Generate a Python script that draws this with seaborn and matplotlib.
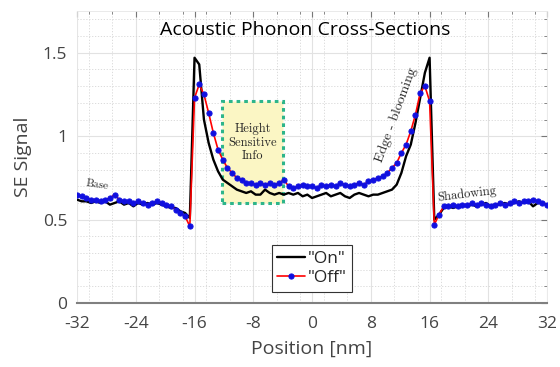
import matplotlib
matplotlib.use("Agg")
import matplotlib.pyplot as plt
import numpy as np
import pandas as pd
import seaborn as sns
from matplotlib.patches import Rectangle
from matplotlib.ticker import MultipleLocator

# Sample positions (nm), one every 0.64 nm from -32 to 32
position = np.linspace(-32, 32, 101)

# "On" signal (black line)
signal_on = [
    0.62, 0.61, 0.61, 0.60, 0.61, 0.60, 0.61, 0.59, 0.60, 0.61,
    0.59, 0.60, 0.58, 0.60, 0.59, 0.60, 0.59, 0.60, 0.59, 0.58,
    0.57, 0.57, 0.55, 0.54, 0.51, 1.47, 1.43, 1.10, 0.96, 0.86,
    0.79, 0.74, 0.72, 0.70, 0.68, 0.67, 0.66, 0.67, 0.65, 0.65,
    0.68, 0.66, 0.65, 0.66, 0.65, 0.66, 0.65, 0.66, 0.64, 0.65,
    0.63, 0.64, 0.65, 0.66, 0.64, 0.65, 0.66, 0.64, 0.63, 0.65,
    0.66, 0.65, 0.64, 0.65, 0.65, 0.66, 0.67, 0.68, 0.71, 0.78,
    0.88, 0.95, 1.08, 1.23, 1.38, 1.47, 0.50, 0.53, 0.57, 0.58,
    0.57, 0.58, 0.59, 0.58, 0.59, 0.58, 0.59, 0.60, 0.58, 0.59,
    0.59, 0.60, 0.59, 0.60, 0.61, 0.60, 0.61, 0.58, 0.60, 0.60,
    0.59,
]

# "Off" signal (red line, blue markers)
signal_off = [
    0.65, 0.64, 0.63, 0.62, 0.62, 0.61, 0.62, 0.63, 0.65, 0.62,
    0.61, 0.61, 0.60, 0.61, 0.60, 0.59, 0.60, 0.61, 0.60, 0.59,
    0.58, 0.56, 0.54, 0.52, 0.46, 1.23, 1.31, 1.25, 1.14, 1.02,
    0.92, 0.86, 0.81, 0.78, 0.75, 0.74, 0.72, 0.72, 0.71, 0.72,
    0.71, 0.72, 0.71, 0.72, 0.74, 0.70, 0.69, 0.70, 0.71, 0.70,
    0.70, 0.69, 0.71, 0.70, 0.71, 0.70, 0.72, 0.71, 0.70, 0.71,
    0.72, 0.71, 0.73, 0.74, 0.75, 0.76, 0.78, 0.81, 0.84, 0.90,
    0.95, 1.03, 1.13, 1.26, 1.30, 1.21, 0.47, 0.53, 0.58, 0.58,
    0.59, 0.58, 0.59, 0.59, 0.60, 0.59, 0.60, 0.59, 0.58, 0.59,
    0.60, 0.59, 0.60, 0.61, 0.60, 0.61, 0.61, 0.62, 0.61, 0.60,
    0.59,
]

df = pd.DataFrame({"position": position, "on": signal_on, "off": signal_off})

sns.set_style("white")
plt.rcParams["font.family"] = ["Open Sans", "DejaVu Sans"]
plt.rcParams["axes.unicode_minus"] = False
serif = ["cmr10", "DejaVu Serif"]
gray = "#444444"

fig = plt.figure(figsize=(5.6, 3.67), dpi=100)
ax = fig.add_axes([0.1375, 0.174, 0.8395, 0.796])

# highlighted region
ax.add_patch(Rectangle((-12.2, 0.60), 8.3, 0.61, facecolor="#fbf6c4",
                       edgecolor="#2db58a", linewidth=2.2,
                       linestyle=(0, (1.2, 1.3)), zorder=1))

sns.lineplot(data=df, x="position", y="on", ax=ax, color="black",
             linewidth=1.7, label='"On"', zorder=3)
sns.lineplot(data=df, x="position", y="off", ax=ax, color="red",
             linewidth=1.2, marker="o", markersize=3.7,
             markerfacecolor="#1010e0", markeredgecolor="#1010e0",
             label='"Off"', zorder=4)

ax.set_xlim(-32, 32)
ax.set_ylim(0, 1.75)
ax.xaxis.set_major_locator(MultipleLocator(8))
ax.xaxis.set_minor_locator(MultipleLocator(3.2, offset=1.6))
ax.set_yticks([0, 0.5, 1, 1.5])
ax.set_yticklabels(["0", "0.5", "1", "1.5"])
ax.yaxis.set_minor_locator(MultipleLocator(0.1))

ax.grid(which="major", color="#e2e2e2", linewidth=0.8, zorder=0)
ax.grid(which="minor", color="#d6d6d6", linewidth=0.6, linestyle=(0, (1.5, 2)), zorder=0)
ax.set_axisbelow(True)

ax.tick_params(which="both", direction="in", top=True, right=True,
               colors="#777777", labelcolor=gray, labelsize=12.5)
ax.tick_params(which="major", length=4, width=0.8)
ax.tick_params(which="minor", length=2, width=0.6)
ax.tick_params(axis="x", which="major", pad=9)
ax.tick_params(axis="y", which="major", pad=7)
for side in ["left", "top", "right"]:
    ax.spines[side].set_color("#e6e6e6")
    ax.spines[side].set_linewidth(0.6)
ax.spines["bottom"].set_color("#808080")
ax.spines["bottom"].set_linewidth(1.5)

ax.set_xlabel("Position [nm]", fontsize=14, color=gray, labelpad=6)
ax.set_ylabel("SE Signal", fontsize=14, color=gray, labelpad=8)
ax.text(0.485, 0.935, "Acoustic Phonon Cross-Sections", transform=ax.transAxes,
        ha="center", va="center", fontsize=14, color="black")

# annotations
ax.text(-8.1, 0.96, "Height\nSensitive\nInfo", family=serif, fontsize=9,
        ha="center", va="center", linespacing=1.15, zorder=2)
ax.text(-29.3, 0.71, "Base", family=serif, fontsize=8, ha="center",
        va="center", rotation=-8)
ax.text(11.5, 1.13, "Edge - blooming", family=serif, fontsize=10,
        ha="center", va="center", rotation=70, rotation_mode="anchor")
ax.text(21.1, 0.655, "Shadowing", family=serif, fontsize=9, ha="center",
        va="center", rotation=7)

leg = ax.legend(loc="lower center", bbox_to_anchor=(0.5, 0.01), fontsize=12.5,
                handlelength=1.6, handletextpad=0.2, borderpad=0.3,
                labelspacing=0.2, fancybox=False, framealpha=1)
leg.get_frame().set_edgecolor("#333333")
leg.get_frame().set_linewidth(0.8)

fig.savefig("out.png", dpi=100)
